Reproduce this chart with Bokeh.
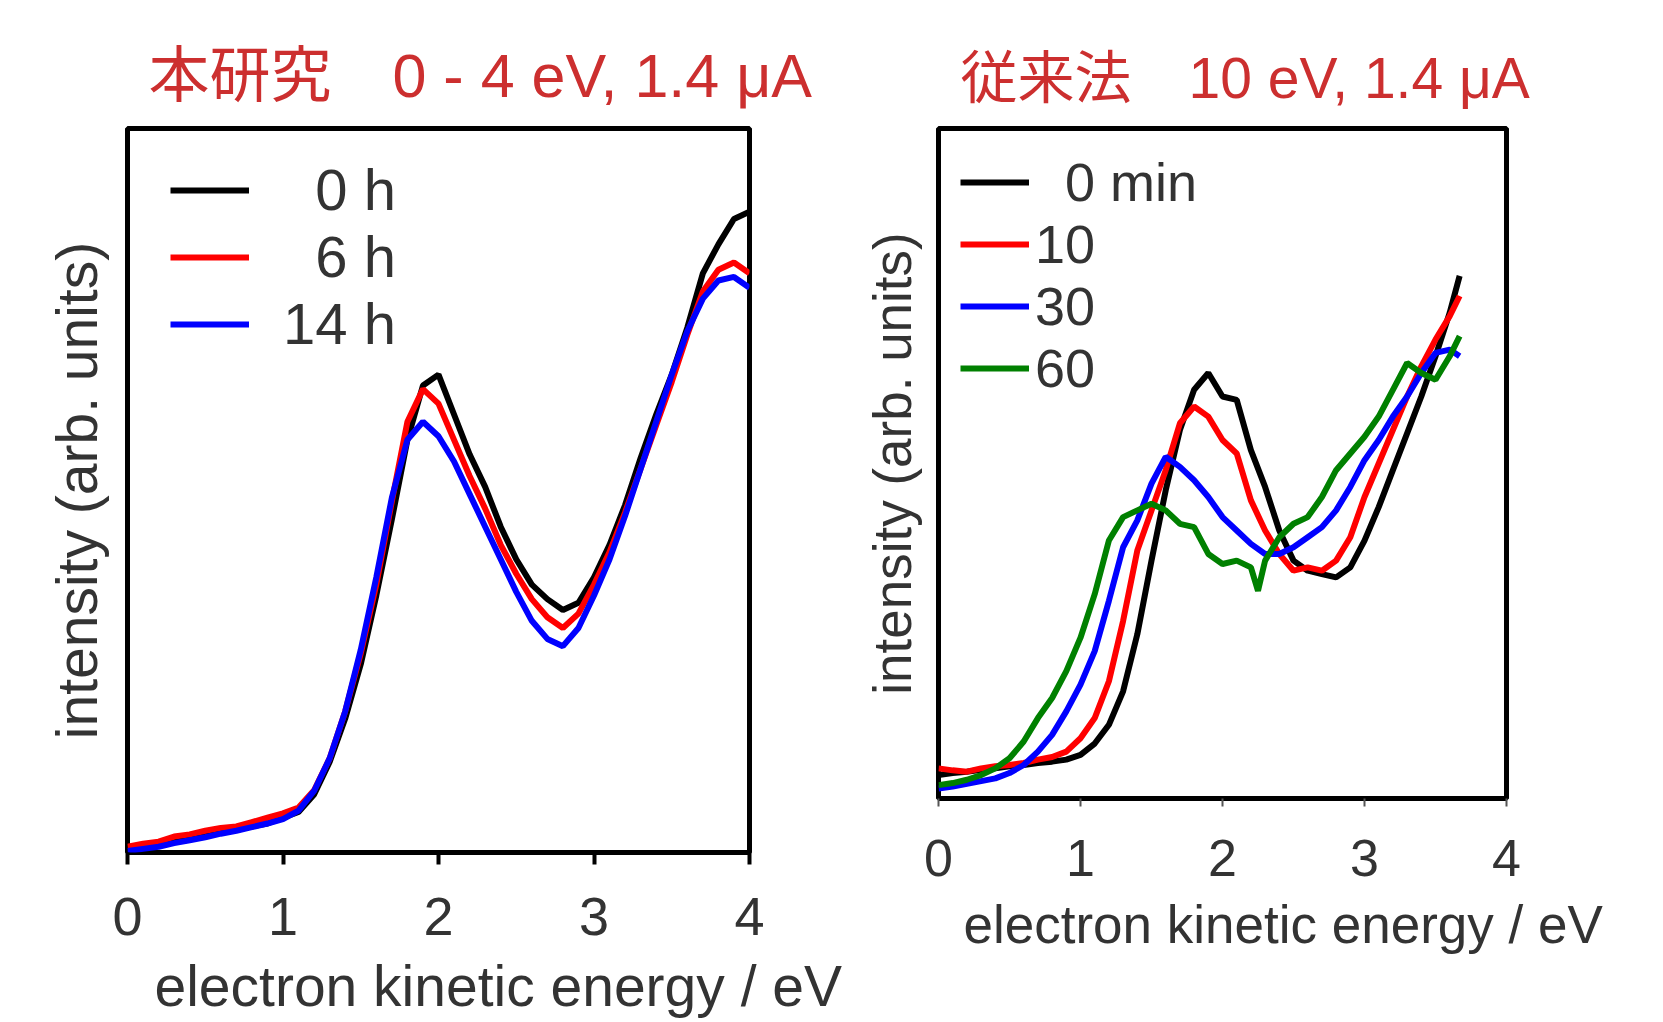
from bokeh.plotting import figure
from bokeh.layouts import row
from bokeh.models import Range1d, FixedTicker, Legend, LegendItem, Title
from bokeh.embed import file_html
from bokeh.resources import INLINE

# ---------------- data ----------------
# Left panel: this work, 0-4 eV, 1.4 uA ; intensity in arb. units (0-100 frame)
left_x = [0.0, 0.1, 0.2, 0.3, 0.4, 0.5, 0.6, 0.7, 0.8, 0.9,
          1.0, 1.1, 1.2, 1.3, 1.4, 1.5, 1.6, 1.7, 1.8, 1.9,
          2.0, 2.1, 2.2, 2.3, 2.4, 2.5, 2.6, 2.7, 2.8, 2.9,
          3.0, 3.1, 3.2, 3.3, 3.4, 3.5, 3.6, 3.7, 3.8, 3.9, 4.0]
left_0h = [0.5, 0.8, 1.0, 1.6, 1.9, 2.4, 2.8, 3.1, 3.6, 4.0,
           4.8, 5.6, 8.0, 12.5, 18.5, 26.0, 35.5, 46.0, 57.0, 64.5,
           66.0, 60.5, 55.0, 50.5, 45.0, 40.5, 37.0, 35.0, 33.5, 34.5,
           38.0, 42.5, 48.0, 54.5, 60.5, 66.0, 72.5, 80.0, 84.0, 87.5, 88.5]
left_6h = [0.8, 1.2, 1.5, 2.2, 2.5, 3.0, 3.4, 3.6, 4.2, 4.8,
           5.4, 6.2, 8.6, 13.0, 19.5, 27.5, 37.0, 48.5, 59.5, 64.0,
           62.0, 57.0, 52.0, 47.5, 42.5, 38.5, 35.0, 32.5, 31.0, 33.0,
           37.0, 41.5, 47.0, 53.0, 59.0, 65.0, 71.5, 77.5, 80.5, 81.5, 80.0]
left_14h = [0.2, 0.5, 0.8, 1.3, 1.7, 2.1, 2.6, 3.0, 3.5, 4.0,
            4.6, 5.8, 8.5, 13.0, 19.5, 28.0, 38.0, 49.0, 57.0, 59.5,
            57.5, 54.0, 49.5, 45.0, 40.5, 36.0, 32.0, 29.5, 28.5, 31.0,
            35.5, 40.5, 46.5, 53.0, 59.5, 66.0, 72.0, 76.5, 79.0, 79.5, 78.0]
left_labels = ["\u20070 h", "\u20076 h", "14 h"]

# Right panel: conventional method, 10 eV, 1.4 uA
right_x = [0.0, 0.1, 0.2, 0.3, 0.4, 0.5, 0.6, 0.7, 0.8, 0.9,
           1.0, 1.1, 1.2, 1.3, 1.4, 1.5, 1.6, 1.7, 1.8, 1.9,
           2.0, 2.1, 2.2, 2.3, 2.4, 2.5, 2.6, 2.7, 2.8, 2.9,
           3.0, 3.1, 3.2, 3.3, 3.4, 3.5, 3.6, 3.67]
right_0min = [3.5, 3.8, 4.0, 4.3, 4.5, 4.8, 5.0, 5.3, 5.5, 5.8,
              6.5, 8.2, 11.0, 16.0, 24.5, 35.5, 46.0, 55.0, 61.0, 63.5,
              60.0, 59.5, 52.0, 46.5, 40.0, 35.5, 34.0, 33.5, 33.0, 34.5,
              38.5, 43.5, 49.0, 54.5, 60.0, 66.0, 72.5, 78.0]
right_10min = [4.5, 4.2, 4.0, 4.5, 4.8, 5.0, 5.3, 5.8, 6.2, 7.0,
               9.0, 12.0, 17.5, 26.5, 37.0, 43.0, 49.0, 56.0, 58.5, 57.0,
               53.5, 51.5, 44.5, 40.0, 36.5, 34.0, 34.5, 34.0, 35.5, 39.0,
               45.0, 50.0, 55.0, 60.0, 64.5, 68.5, 72.0, 75.0]
right_30min = [1.5, 1.8, 2.2, 2.6, 3.0, 3.8, 5.0, 7.0, 9.5, 13.0,
               17.0, 22.0, 29.5, 37.5, 41.5, 47.0, 51.0, 49.5, 47.5, 45.0,
               42.0, 40.0, 38.0, 36.5, 36.5, 37.5, 39.0, 40.5, 43.0, 46.5,
               50.5, 53.5, 57.0, 60.0, 63.5, 66.5, 67.0, 66.0]
right_x60 = [0.0, 0.1, 0.2, 0.3, 0.4, 0.5, 0.6, 0.7, 0.8, 0.9,
             1.0, 1.1, 1.2, 1.3, 1.4, 1.5, 1.6, 1.7, 1.8, 1.9,
             2.0, 2.1, 2.2, 2.25, 2.3, 2.4, 2.5, 2.6, 2.7, 2.8, 2.9,
             3.0, 3.1, 3.2, 3.3, 3.4, 3.5, 3.6, 3.67]
right_60min = [2.0, 2.3, 2.8, 3.5, 4.5, 6.0, 8.5, 12.0, 15.0, 19.0,
               24.0, 30.5, 38.5, 42.0, 43.0, 44.0, 43.0, 41.0, 40.5, 36.5,
               35.0, 35.5, 34.5, 31.0, 35.5, 39.0, 41.0, 42.0, 45.0, 49.0, 51.5,
               54.0, 57.0, 61.0, 65.0, 63.5, 62.5, 66.0, 69.0]
right_labels = ["\u20070 min", "10", "30", "60"]

x_ticks = [0, 1, 2, 3, 4]
x_title = "electron kinetic energy / eV"
y_title = "intensity (arb. units)"
left_title = "本研究\u30000 - 4 eV, 1.4 μA"
right_title = "従来法\u300010 eV, 1.4 μA"

FONT = "Liberation Sans"
TFONT = "'Liberation Sans', 'Noto Sans CJK JP'"
TXT = "#333333"
TITLE_RED = "#cc2f2f"
LW = 6


def style(p, tick_size, label_size, title_size, tick_out, tick_w, tick_color,
          title_offset, xlabel_offset, ylabel_standoff):
    p.xgrid.visible = False
    p.ygrid.visible = False
    p.outline_line_color = "black"
    p.outline_line_width = 5
    p.background_fill_color = "white"
    p.border_fill_color = "white"

    p.title.text_font = TFONT
    p.title.text_font_size = f"{title_size}px"
    p.title.text_font_style = "normal"
    p.title.text_color = TITLE_RED
    p.title.align = "left"
    p.title.offset = title_offset
    p.title.standoff = 38

    ax = p.xaxis[0]
    ax.ticker = FixedTicker(ticks=x_ticks)
    ax.axis_line_color = None
    ax.major_tick_in = 0
    ax.major_tick_out = tick_out
    ax.major_tick_line_width = tick_w
    ax.major_tick_line_color = tick_color
    ax.minor_tick_line_color = None
    ax.major_label_text_font = FONT
    ax.major_label_text_font_size = f"{tick_size}px"
    ax.major_label_text_color = TXT
    ax.major_label_standoff = 33

    ay = p.yaxis[0]
    ay.ticker = FixedTicker(ticks=[])
    ay.axis_line_color = None
    ay.major_tick_out = 0
    ay.major_tick_in = 0
    ay.minor_tick_line_color = None
    ay.axis_label = y_title
    ay.axis_label_text_font = FONT
    ay.axis_label_text_font_size = f"{label_size}px"
    ay.axis_label_text_font_style = "normal"
    ay.axis_label_text_color = TXT
    ay.axis_label_standoff = ylabel_standoff

    p.add_layout(Title(text=x_title, align="left", offset=xlabel_offset,
                       text_font=FONT, text_font_size=f"{label_size}px",
                       text_font_style="normal", text_color=TXT, standoff=29),
                 "below")


# ---------------- left panel ----------------
p1 = figure(frame_width=622, frame_height=724,
            min_border_left=127, min_border_right=105,
            min_border_top=127, min_border_bottom=171,
            x_range=Range1d(0, 4), y_range=Range1d(0, 100),
            output_backend="svg", toolbar_location=None,
            title=left_title)
style(p1, 54, 57, 61, 12, 4, "black", 21, 27, 19)

r1 = p1.line(left_x, left_0h, line_color="black", line_width=LW)
r2 = p1.line(left_x, left_6h, line_color="#ff0000", line_width=LW)
r3 = p1.line(left_x, left_14h, line_color="#0000ff", line_width=LW)

leg1 = Legend(items=[LegendItem(label=left_labels[0], renderers=[r1]),
                     LegendItem(label=left_labels[1], renderers=[r2]),
                     LegendItem(label=left_labels[2], renderers=[r3])],
              location=(43, 495), border_line_color=None,
              background_fill_alpha=0, padding=0, margin=0, spacing=0,
              glyph_width=79, glyph_height=40, label_standoff=34,
              label_text_font=FONT, label_text_font_size="58px",
              label_text_color=TXT)
p1.add_layout(leg1)

# ---------------- right panel ----------------
p2 = figure(frame_width=568, frame_height=670,
            min_border_left=84, min_border_right=157,
            min_border_top=128, min_border_bottom=224,
            x_range=Range1d(0, 4), y_range=Range1d(0, 100),
            output_backend="svg", toolbar_location=None,
            title=right_title)
style(p2, 52, 53, 57, 8, 2, "#555555", 22, 25, 17)

q1 = p2.line(right_x, right_0min, line_color="black", line_width=LW)
q2 = p2.line(right_x, right_10min, line_color="#ff0000", line_width=LW)
q3 = p2.line(right_x, right_30min, line_color="#0000ff", line_width=LW)
q4 = p2.line(right_x60, right_60min, line_color="#008000", line_width=LW)

leg2 = Legend(items=[LegendItem(label=right_labels[0], renderers=[q1]),
                     LegendItem(label=right_labels[1], renderers=[q2]),
                     LegendItem(label=right_labels[2], renderers=[q3]),
                     LegendItem(label=right_labels[3], renderers=[q4])],
              location=(22, 399), border_line_color=None,
              background_fill_alpha=0, padding=0, margin=0, spacing=0,
              glyph_width=69, glyph_height=40, label_standoff=6,
              label_text_font=FONT, label_text_font_size="54px",
              label_text_color=TXT)
p2.add_layout(leg2)

layout = row(p1, p2)
open("out.html", "w").write(file_html(layout, INLINE))
